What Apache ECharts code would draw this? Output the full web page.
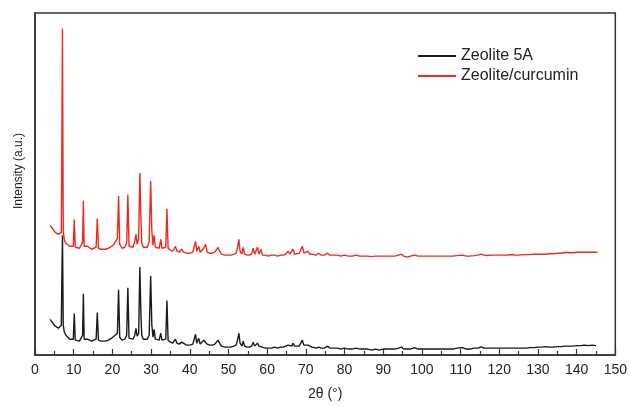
<!DOCTYPE html>
<html>
<head>
<meta charset="utf-8">
<script src="https://cdn.jsdelivr.net/npm/echarts@6/dist/echarts.min.js"></script>
<style>
html,body{margin:0;padding:0;background:#fff;}
#chart{width:630px;height:406px;}
</style>
</head>
<body>
<div id="chart"></div>
<script>
// 2θ (degrees) and intensity (arbitrary units)
var seriesNames = ['Zeolite 5A', 'Zeolite/curcumin'];
var xTicks = [0,10,20,30,40,50,60,70,80,90,100,110,120,130,140,150];

var zeolite5A = [
[3.9,36],[4.5,33],[5.0,30],[5.5,28],[6.0,27],[6.5,26],[6.8,30],[6.95,80],[7.1,121],[7.3,30],[7.6,23],[8.0,20],[8.5,18],[9.0,16],[9.5,15],[9.9,16],
[10.15,42],[10.4,15],[10.8,14],[11.5,14],[12.0,15],[12.3,20],[12.5,62],[12.7,16],[13.2,14],[13.6,16],[14.0,14],[14.6,14],[15.2,15],[15.8,16],
[16.1,43],[16.4,15],[17.0,14],[17.5,15],[18.2,14],[19.0,15],[19.8,17],[20.4,19],[20.9,18],[21.3,22],[21.6,66],[21.9,18],[22.5,15],[23.2,16],
[23.7,20],[24.0,68],[24.3,17],[24.8,15],[25.3,16],[25.8,20],[26.1,27],[26.4,19],[26.8,22],[27.1,89],[27.4,38],[27.6,20],[28.0,16],[28.5,15],
[29.0,16],[29.5,20],[29.9,80],[30.2,30],[30.5,18],[30.8,26],[31.1,16],[31.6,15],[32.1,15],[32.5,22],[32.8,15],[33.3,14],[33.8,16],[34.1,55],
[34.4,15],[35.0,13],[35.6,12],[36.3,16],[36.7,12],[37.3,11],[37.9,13],[38.4,11],[39.2,10],[40.0,10],[40.8,11],[41.5,21],[41.8,12],[42.3,17],
[42.7,11],[43.2,12],[43.6,15],[44.1,17],[44.5,11],[45.2,10],[45.8,10],[46.5,11],[47.0,13],[47.3,15],[47.7,12],[48.2,9],[49.0,8],[49.8,8],
[50.6,8],[51.4,9],[52.0,10],[52.4,16],[52.7,22],[53.0,12],[53.5,9],[53.8,14],[54.2,9],[54.8,8],[55.4,8],[56.0,9],[56.4,13],[56.8,9],[57.2,10],
[57.5,12],[57.9,9],[58.4,11],[58.8,8],[59.5,7],[60.3,7],[61.1,7],[61.9,8],[62.7,7],[63.5,8],[64.2,8],[64.8,9],[65.4,10],[65.9,8],[66.4,9],
[66.7,12],[67.1,9],[67.6,8],[68.3,9],[68.8,11],[69.1,15],[69.5,10],[70.0,8],[70.6,10],[71.0,8],[71.6,8],[72.1,9],[72.6,7],[73.3,8],[74.0,7],
[74.8,7],[75.6,9],[76.2,7],[77.0,7],[77.5,8],[78.2,7],[79.0,6],[80.0,7],[81.0,6],[82.0,6],[83.0,7],[84.0,6],[85.0,6],[86.0,6],[87.0,5],
[88.0,6],[89.0,5],[90.0,6],[91.0,6],[92.0,6],[93.0,6],[94.0,7],[94.7,8],[95.3,6],[96.0,6],[97.0,6],[98.1,7.5],[99.0,6],[100,6],[101,6],
[102,6],[103,6],[104,6],[105,6],[106,6],[107,6],[108,6],[109,7],[110.5,7.5],[111.5,6],[112.5,6],[113.5,7],[114.5,7],[115.3,8.3],[116,7],
[117,7],[118,7],[119,7],[120,7],[121,7],[122,7],[123,7],[124,7],[125,7],[126,7],[127,7],[128,7.5],[129,7.5],[130,8],[131,8],[132,8.5],
[133,8],[134,8],[135,8.5],[136,8.5],[137,9],[138,9],[139,9],[140,9.5],[141,9.5],[142,10],[143,9.5],[144,10],[145,9.5]
];

var zeoliteCurcumin = [
[3.9,131],[4.5,128],[5.0,125],[5.5,123],[6.0,122],[6.5,121],[6.8,124],[6.9,177],[7.1,330],[7.3,125],[7.6,116],[8.0,113],[8.5,111],[9.0,110],
[9.5,109],[9.9,110],[10.15,137],[10.4,109],[10.8,108],[11.5,108],[12.0,109],[12.3,114],[12.5,156],[12.7,110],[13.2,108],[13.6,110],[14.0,108],
[14.6,107],[15.2,108],[15.8,109],[16.1,138],[16.4,108],[17.0,107],[17.5,108],[18.2,107],[19.0,108],[19.8,110],[20.4,112],[20.9,111],[21.3,118],
[21.6,161],[21.9,112],[22.5,108],[23.2,109],[23.7,113],[24.0,162],[24.3,110],[24.8,108],[25.3,109],[25.8,115],[26.1,122],[26.4,112],[26.8,118],
[27.1,184],[27.4,135],[27.6,113],[28.0,109],[28.5,108],[29.0,109],[29.5,114],[29.9,176],[30.2,125],[30.5,111],[30.8,121],[31.1,109],[31.6,108],
[32.1,108],[32.5,117],[32.8,108],[33.3,107],[33.8,109],[34.1,148],[34.4,108],[35.0,106],[35.6,105],[36.3,110],[36.7,105],[37.3,104],[37.9,107],
[38.4,104],[39.2,103],[40.0,103],[40.8,104],[41.5,115],[41.8,105],[42.3,110],[42.7,104],[43.2,105],[43.6,108],[44.1,112],[44.5,104],[45.2,103],
[45.8,103],[46.5,104],[47.0,106],[47.3,109],[47.7,105],[48.2,102],[49.0,101],[49.8,101],[50.6,101],[51.4,102],[52.0,103],[52.4,110],[52.7,117],
[53.0,105],[53.5,102],[53.8,109],[54.2,102],[54.8,101],[55.4,101],[56.0,102],[56.4,108],[56.8,102],[57.2,103],[57.5,109],[57.9,102],[58.4,107],
[58.8,101],[59.5,101],[60.3,100],[61.1,101],[61.9,101],[62.7,100],[63.5,101],[64.2,101],[64.8,102],[65.4,105],[65.9,102],[66.4,103],[66.7,107],
[67.1,102],[67.6,101],[68.3,103],[68.8,105],[69.1,110],[69.5,103],[70.0,102],[70.6,105],[71.0,102],[71.6,102],[72.1,104],[72.6,101],[73.3,103],
[74.0,101],[74.8,101],[75.6,103],[76.2,101],[77.0,101],[77.5,103],[78.2,101],[79.0,100],[80.0,101],[81.0,100],[82.0,100],[83.0,101],[84.0,100],
[85.0,100],[86.0,100],[87.0,99.5],[88.0,100],[89.0,100],[90.0,100],[91.0,100],[92.0,100],[93.0,100],[94.0,101],[94.7,102],[95.3,100],[96.3,99],
[97.0,100],[98.1,101],[99.0,100],[100,100],[101,100],[102,100],[103,100],[104,100],[105,100],[106,100],[107,100],[108,100],[109,100.5],
[110.5,101],[111.5,100],[112.3,100],[113.5,100.5],[114.5,101],[115.3,102],[116,101],[117,100.7],[118,101],[119,101],[120,101],[121,101],
[122,101],[123.4,101.7],[124,101],[125,101],[126,101.5],[127,101.5],[128,101.5],[129,102],[130,102],[131,102],[132,102],[133,102.5],
[134,102.5],[135,103],[136,103],[137.3,104],[138,103.5],[139,103.5],[140,104],[141,104],[142,104],[143,104],[144,104],[145.4,104]
];

var chart = echarts.init(document.getElementById('chart'), null, {renderer:'canvas'});
var font = 'Liberation Sans, Arial, sans-serif';
chart.setOption({
  animation: false,
  backgroundColor: '#fff',
  grid: {left: 35, right: 14, top: 13, bottom: 47, show: true, borderColor: '#333', borderWidth: 1.5, backgroundColor: 'transparent'},
  legend: {
    orient: 'vertical', left: 413, top: 43, itemWidth: 38, itemHeight: 2, itemGap: 4,
    icon: 'rect',
    textStyle: {fontFamily: font, fontSize: 16, color: '#222', padding: [0,0,0,0]},
    data: seriesNames
  },
  xAxis: {
    type: 'value', min: 0, max: 150, interval: 10,
    name: '2θ (°)', nameLocation: 'middle', nameGap: 32,
    nameTextStyle: {fontFamily: font, fontSize: 14, color: '#222'},
    axisLine: {lineStyle: {color: '#333', width: 1.5}},
    axisTick: {inside: true, length: 6, lineStyle: {color: '#333', width: 1.2}},
    minorTick: {show: true, splitNumber: 2, length: 4, lineStyle: {color: '#333', width: 1.2}},
    axisLabel: {fontFamily: font, fontSize: 14, color: '#222', margin: 8,
      formatter: function (v) { return xTicks.indexOf(v) >= 0 ? String(v) : ''; }},
    splitLine: {show: false}
  },
  yAxis: {
    type: 'value', min: 0, max: 346,
    name: 'Intensity (a.u.)', nameLocation: 'middle', nameGap: 10,
    nameTextStyle: {fontFamily: font, fontSize: 12, color: '#222', padding: [0,0,0,26]},
    axisLine: {show: true, lineStyle: {color: '#333', width: 1.5}},
    axisTick: {show: false}, axisLabel: {show: false}, splitLine: {show: false}
  },
  series: [
    {name: seriesNames[0], type: 'line', data: zeolite5A, showSymbol: false, symbol: 'none',
     lineStyle: {color: '#1a1a1a', width: 1.4}, itemStyle: {color: '#1a1a1a'}},
    {name: seriesNames[1], type: 'line', data: zeoliteCurcumin, showSymbol: false, symbol: 'none',
     lineStyle: {color: '#ee2a1e', width: 1.4}, itemStyle: {color: '#ee2a1e'}}
  ]
});
</script>
</body>
</html>
